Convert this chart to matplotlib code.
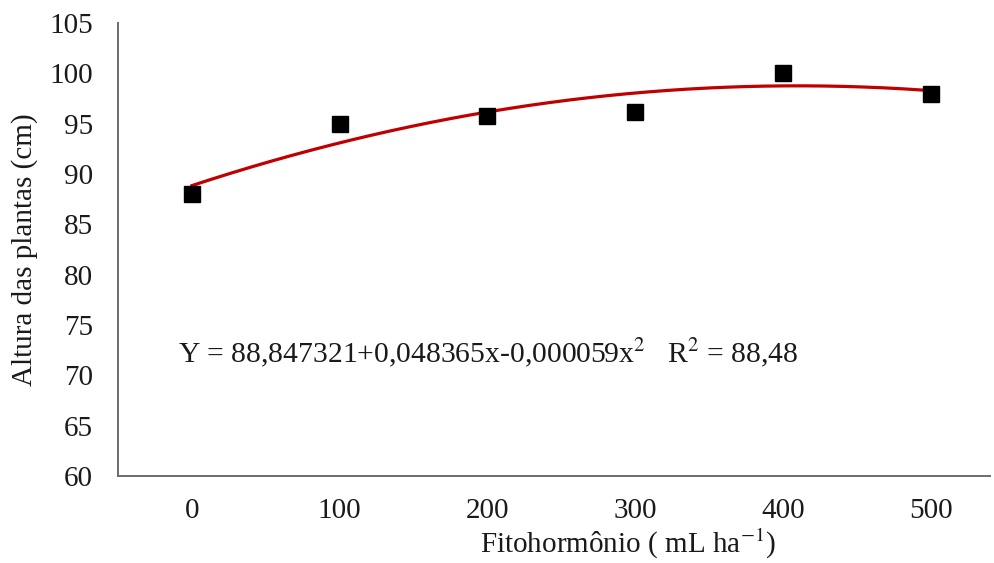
import numpy as np
import matplotlib
matplotlib.use("Agg")
import matplotlib.pyplot as plt

# Data
doses = [0, 100, 200, 300, 400, 500]
altura = [88.0, 95.0, 95.8, 96.2, 100.0, 97.9]
coef = [88.847321, 0.048365, -0.000059]   # regression shown in chart
y_ticks = [60, 65, 70, 75, 80, 85, 90, 95, 100, 105]
x_ticks = [0, 100, 200, 300, 400, 500]

plt.rcParams['font.family'] = ['Liberation Serif', 'DejaVu Serif']
plt.rcParams['mathtext.fontset'] = 'stix'

W, H = 995, 563
fig = plt.figure(figsize=(W/100, H/100), dpi=100)
left, right, top, bottom = 118, 990, 23, 476
ax = fig.add_axes([left/W, 1-bottom/H, (right-left)/W, (bottom-top)/H])

xs = np.linspace(0, 500, 300)
ys = coef[0] + coef[1]*xs + coef[2]*xs**2
ax.plot(xs, ys, color='#C00000', lw=2.3, zorder=2)
ax.plot(doses, altura, 's', color='black', ms=12, zorder=3)

fs = 21
ax.set_xlim(-50, 540)
ax.set_ylim(60, 105)
ax.set_xticks(x_ticks)
ax.set_yticks(y_ticks)
ax.tick_params(axis='both', length=0, labelsize=fs, colors='#1a1a1a')
ax.tick_params(axis='x', pad=16)
ax.tick_params(axis='y', pad=18)

for s in ['top', 'right']:
    ax.spines[s].set_visible(False)
for s in ['left', 'bottom']:
    ax.spines[s].set_color('#6b6b6b')
    ax.spines[s].set_linewidth(1.4)

ax.set_ylabel('Altura das plantas (cm)', fontsize=fs, color='#1a1a1a')
ax.yaxis.set_label_coords((25-left)/(right-left), 0.5)
ax.yaxis.label.set_verticalalignment('center')
ax.set_xlabel('Fitohormônio ( mL ha$^{\\mathrm{-1}}$)', fontsize=fs, color='#1a1a1a')
ax.xaxis.set_label_coords((628-left)/(right-left), (bottom-544)/(bottom-top))
ax.xaxis.label.set_verticalalignment('center')

ax.text((178-left)/(right-left), (bottom-353)/(bottom-top),
        'Y = 88,847321+0,048365x-0,000059x$^{2}$   R$^{2}$ = 88,48',
        transform=ax.transAxes, fontsize=fs + 0.3, color='#1a1a1a',
        ha='left', va='center')

fig.savefig('out.png', dpi=100)
